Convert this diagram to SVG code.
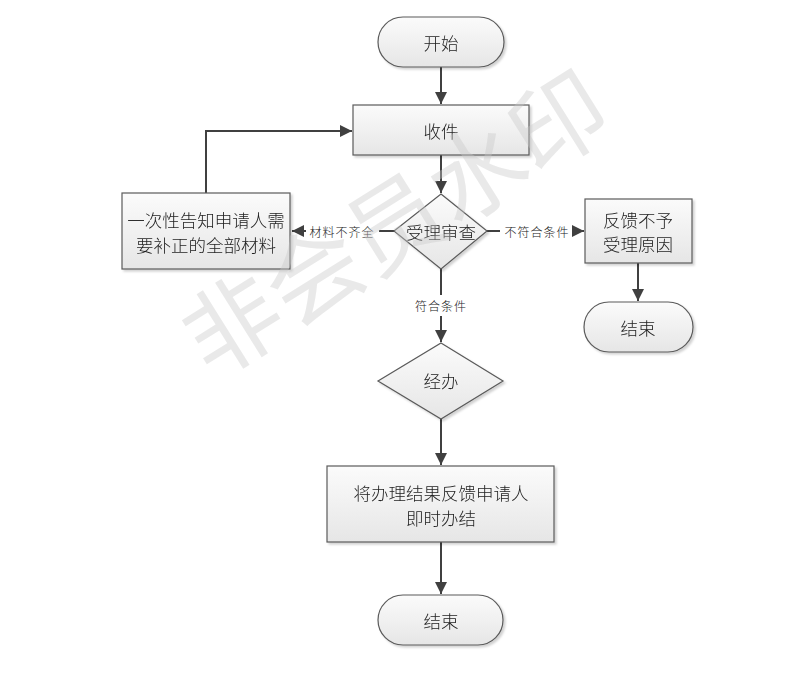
<svg xmlns="http://www.w3.org/2000/svg" width="792" height="674" viewBox="0 0 792 674">
<style>
.shape{fill:url(#g);stroke:#5a5a5a;stroke-width:1.2}
.t{font-family:"Noto Sans CJK SC","Liberation Sans",sans-serif;font-size:17.5px;font-weight:300;fill:#222;text-anchor:middle;dominant-baseline:central}
.lbl{font-family:"Noto Sans CJK SC","Liberation Sans",sans-serif;font-size:12px;font-weight:300;fill:#222;text-anchor:middle;dominant-baseline:central;letter-spacing:1px}
.c{fill:none;stroke:#404040;stroke-width:2}
.wm{font-family:"Noto Sans CJK SC",sans-serif;font-size:96px;fill:#c8c8c8;fill-opacity:0.4;text-anchor:middle;dominant-baseline:central}
</style>
<defs>
<linearGradient id="g" x1="0" y1="0" x2="0" y2="1">
<stop offset="0" stop-color="#fbfbfb"/>
<stop offset="1" stop-color="#e6e6e6"/>
</linearGradient>
<filter id="sh" x="-10%" y="-10%" width="130%" height="130%">
<feDropShadow dx="2" dy="2" stdDeviation="1" flood-color="#000" flood-opacity="0.18"/>
</filter>
<marker id="a" viewBox="0 0 10 10" refX="10" refY="5" markerWidth="6" markerHeight="6" markerUnits="strokeWidth" orient="auto">
<path d="M0,0 L10,5 L0,10 Z" fill="#404040"/>
</marker>
</defs>
<rect width="792" height="674" fill="#fff"/>
<g id="connectors">
<line class="c" x1="441" y1="67" x2="441" y2="104" marker-end="url(#a)"/>
<line class="c" x1="441" y1="155" x2="441" y2="193" marker-end="url(#a)"/>
<polyline class="c" points="206,193 206,131 352,131" marker-end="url(#a)"/>
<line class="c" x1="394" y1="231" x2="379" y2="231"/>
<line class="c" x1="306" y1="231" x2="292" y2="231" marker-end="url(#a)"/>
<line class="c" x1="487" y1="231" x2="500" y2="231"/>
<line class="c" x1="573" y1="231" x2="584" y2="231" marker-end="url(#a)"/>
<line class="c" x1="638" y1="263" x2="638" y2="301" marker-end="url(#a)"/>
<line class="c" x1="441" y1="269" x2="441" y2="295"/>
<line class="c" x1="441" y1="316" x2="441" y2="342" marker-end="url(#a)"/>
<line class="c" x1="441" y1="419" x2="441" y2="465" marker-end="url(#a)"/>
<line class="c" x1="441" y1="542" x2="441" y2="594" marker-end="url(#a)"/>
<text class="lbl" x="342" y="231">材料不齐全</text>
<text class="lbl" x="537" y="231">不符合条件</text>
<text class="lbl" x="441" y="305">符合条件</text>
</g>
<g id="start" filter="url(#sh)">
<rect class="shape" x="378" y="17" width="126" height="50" rx="25"/>
<text class="t" x="441" y="42">开始</text>
</g>
<g id="receive" filter="url(#sh)">
<rect class="shape" x="353" y="105" width="176" height="50"/>
<text class="t" x="441" y="130">收件</text>
</g>
<g id="review" filter="url(#sh)">
<polygon class="shape" points="441,194 487,231 441,269 394,231"/>
<text class="t" x="441" y="231">受理审查</text>
</g>
<g id="notify" filter="url(#sh)">
<rect class="shape" x="122" y="193" width="168" height="76"/>
<text class="t" x="206" y="219">一次性告知申请人需</text>
<text class="t" x="206" y="244">要补正的全部材料</text>
</g>
<g id="reject" filter="url(#sh)">
<rect class="shape" x="585" y="199" width="107" height="64"/>
<text class="t" x="638" y="219">反馈不予</text>
<text class="t" x="638" y="243">受理原因</text>
</g>
<g id="end1" filter="url(#sh)">
<rect class="shape" x="584" y="302" width="109" height="50" rx="25"/>
<text class="t" x="638" y="327">结束</text>
</g>
<g id="handle" filter="url(#sh)">
<polygon class="shape" points="441,343 503,381 441,419 378,381"/>
<text class="t" x="441" y="380">经办</text>
</g>
<g id="result" filter="url(#sh)">
<rect class="shape" x="327" y="466" width="227" height="76"/>
<text class="t" x="441" y="492">将办理结果反馈申请人</text>
<text class="t" x="441" y="517">即时办结</text>
</g>
<g id="end2" filter="url(#sh)">
<rect class="shape" x="378" y="595" width="125" height="50" rx="25"/>
<text class="t" x="441" y="620">结束</text>
</g>
<text class="wm" x="392" y="218" transform="rotate(-32 392 218)">非会员水印</text>
</svg>
